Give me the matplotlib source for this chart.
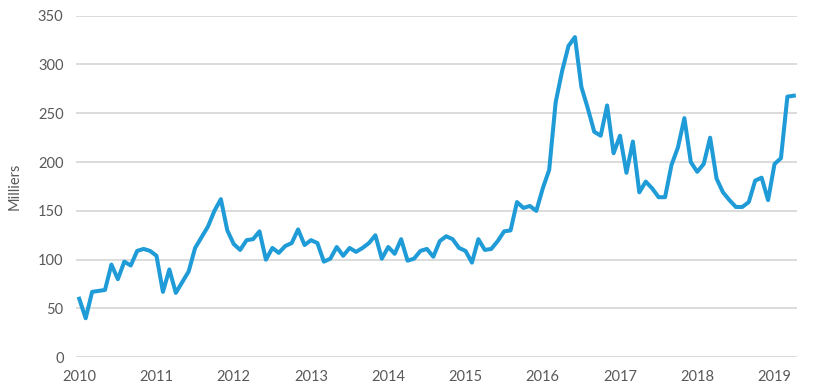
import numpy as np
import matplotlib
matplotlib.use('Agg')
import matplotlib.pyplot as plt

# monthly values, Jan 2010 .. Apr 2019 (thousands)
values_2010 = [60, 40, 67, 68, 69, 95, 80, 98, 94, 109, 111, 109]
values_2011 = [104, 67, 90, 66, 77, 88, 112, 123, 134, 150, 162, 130]
values_2012 = [116, 110, 120, 121, 129, 100, 112, 107, 114, 117, 131, 115]
values_2013 = [120, 117, 98, 101, 113, 104, 112, 108, 112, 117, 125, 101]
values_2014 = [113, 106, 121, 99, 101, 109, 111, 103, 119, 124, 121, 112]
values_2015 = [109, 97, 121, 110, 111, 119, 129, 130, 159, 153, 155, 150]
values_2016 = [173, 192, 261, 293, 319, 328, 277, 255, 231, 227, 258, 209]
values_2017 = [227, 189, 221, 169, 180, 173, 164, 164, 197, 215, 245, 200]
values_2018 = [190, 198, 225, 183, 169, 161, 154, 154, 159, 181, 184, 161]
values_2019 = [198, 204, 267, 268]

values = (values_2010 + values_2011 + values_2012 + values_2013 + values_2014
          + values_2015 + values_2016 + values_2017 + values_2018 + values_2019)
years = list(range(2010, 2020))

months = np.arange(len(values))

plt.rcParams['font.family'] = ['Lato', 'DejaVu Sans']

fig = plt.figure(figsize=(8.2, 3.91), dpi=100)
ax = fig.add_axes([0.0927, 0.0862, 0.8793, 0.8738])

ax.plot(months, values, color='#1f9bd7', linewidth=2.9)

ax.set_ylim(0, 350)
ax.set_yticks(np.arange(0, 351, 50))
ax.set_xlim(-0.5, len(values) - 0.5)
ax.set_xticks([12 * i for i in range(len(years))])
ax.set_xticklabels([str(y) for y in years])

ax.grid(axis='y', color='#d9d9d9', linewidth=1.3)
ax.set_axisbelow(True)
for s in ax.spines.values():
    s.set_visible(False)
ax.tick_params(axis='both', length=0, labelsize=10.5, colors='#595959')
ax.tick_params(axis='y', pad=9)
ax.tick_params(axis='x', pad=9)

ax.set_ylabel('Milliers', fontsize=10.5, color='#595959')
ax.yaxis.set_label_coords(-0.075, 0.5)

fig.savefig('out.png', dpi=100)
